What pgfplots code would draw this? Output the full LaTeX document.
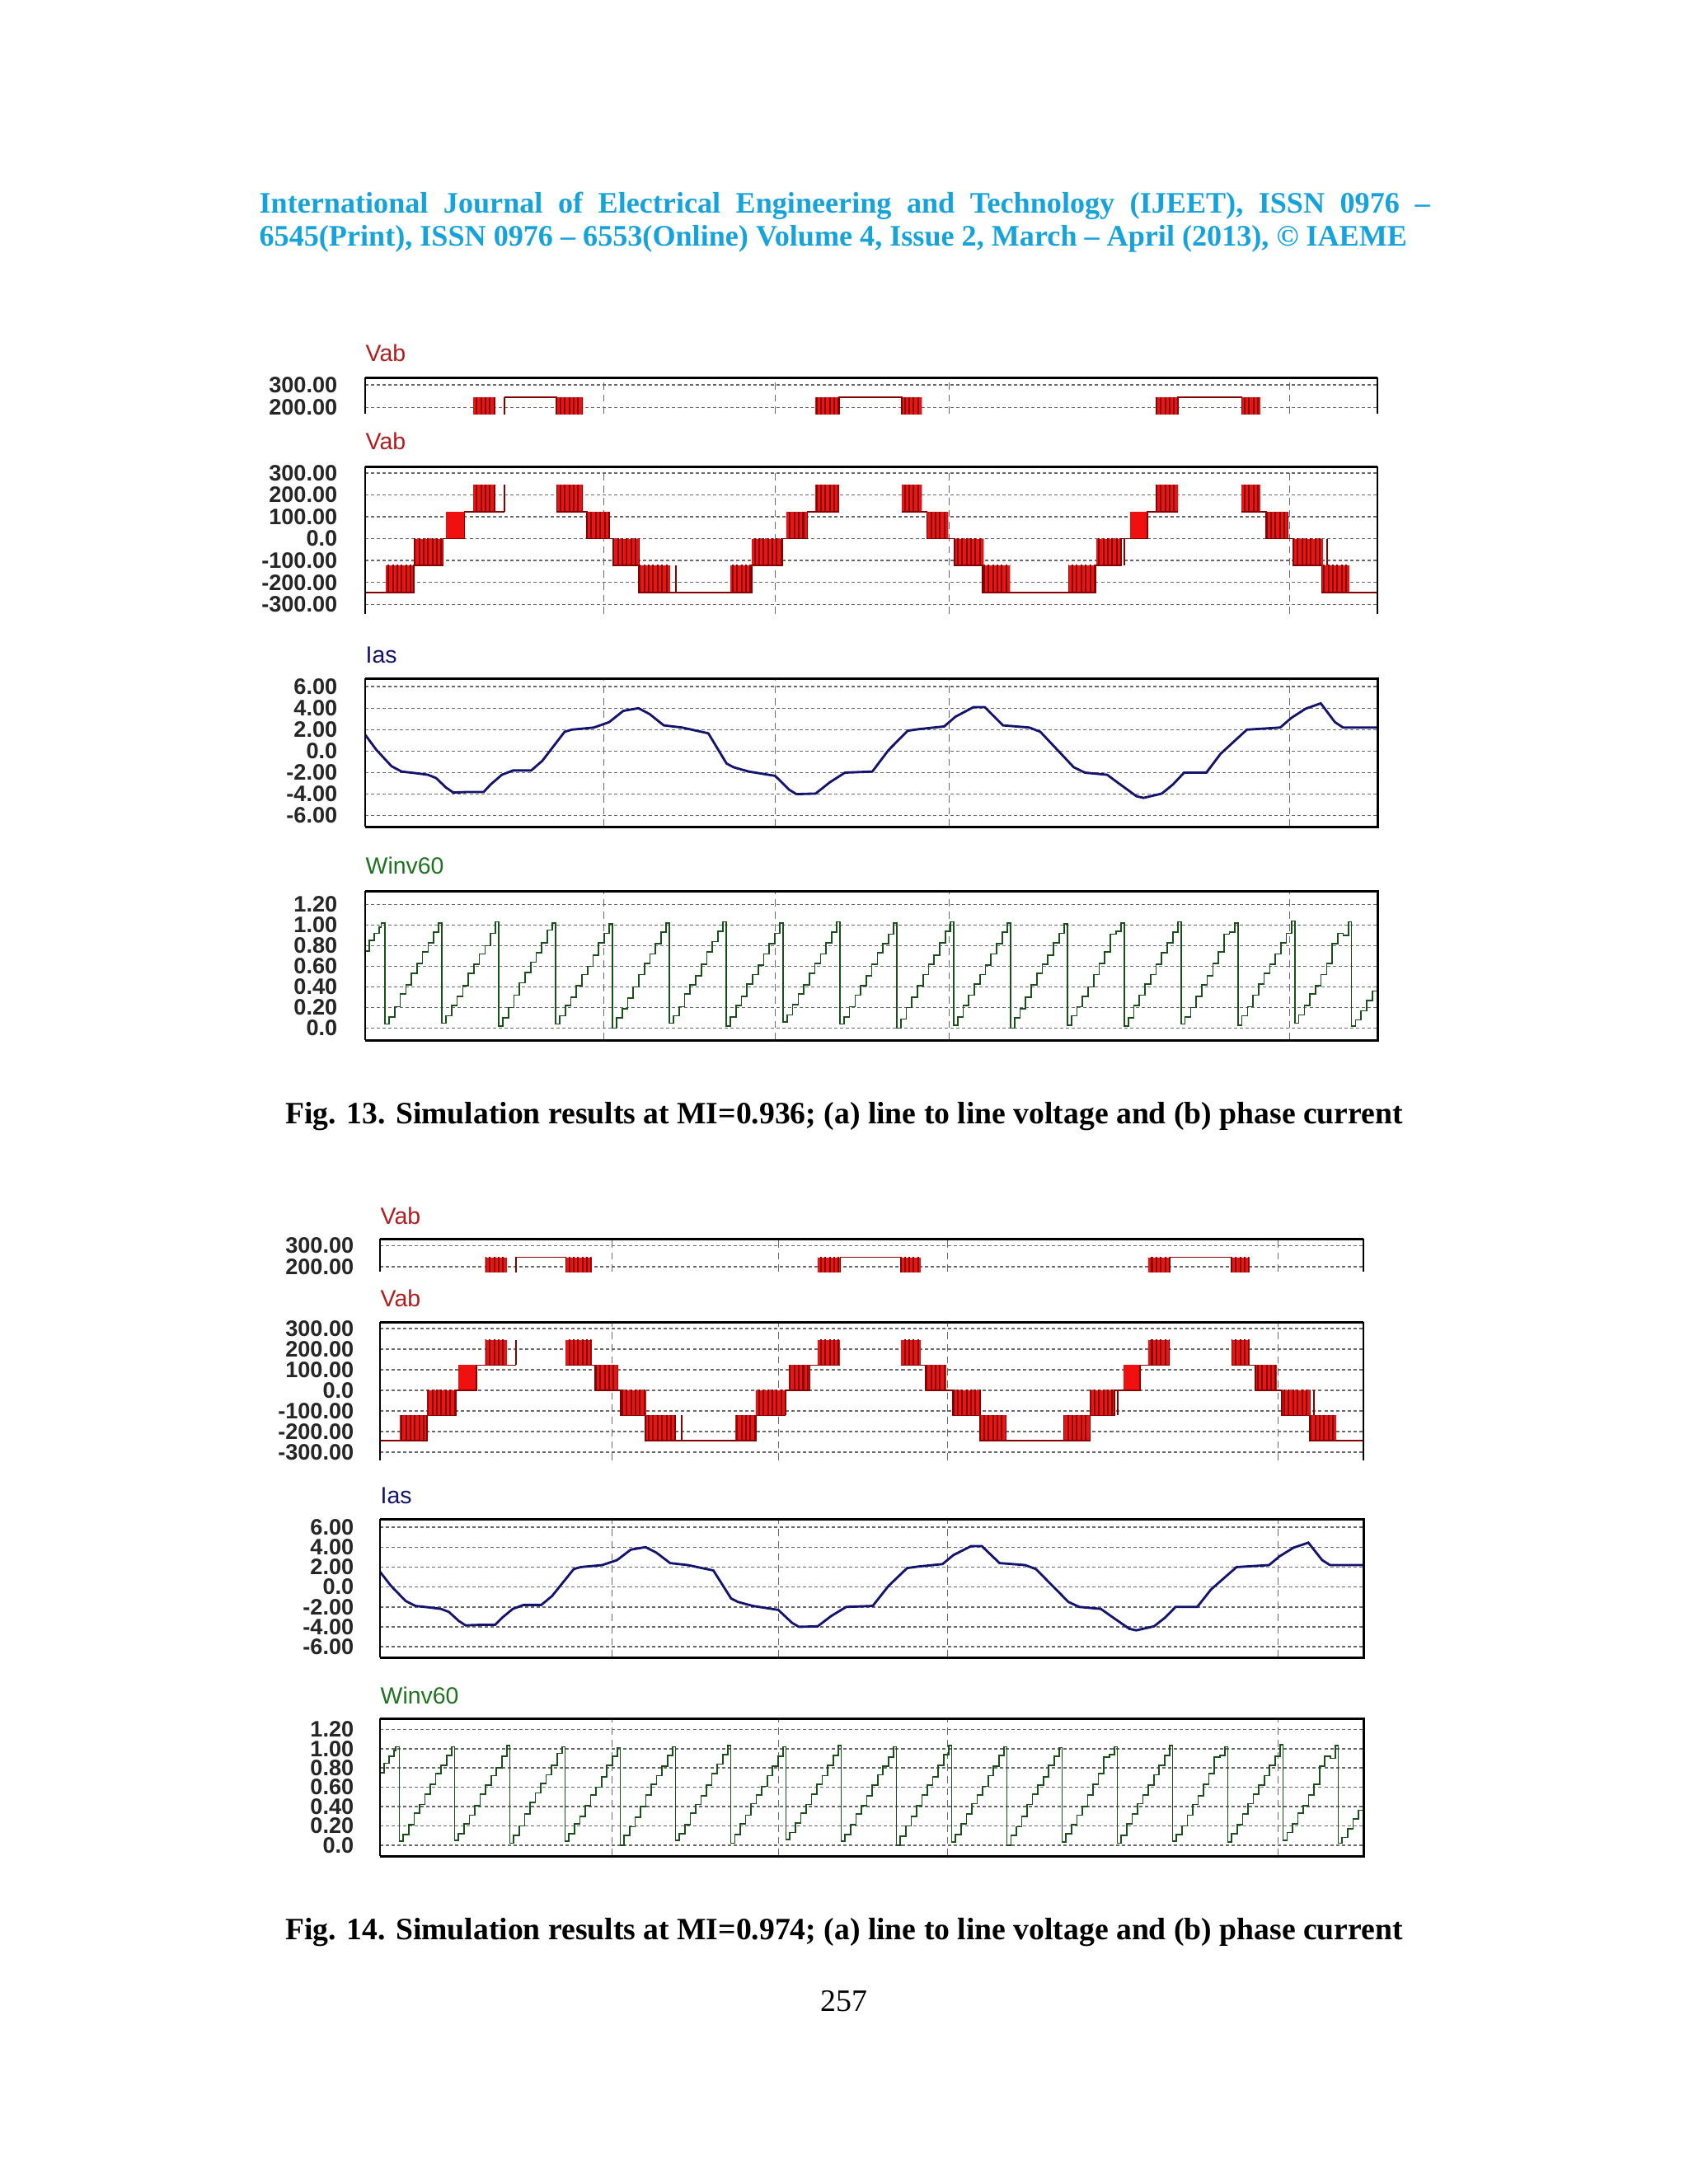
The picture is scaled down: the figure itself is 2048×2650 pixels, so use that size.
\documentclass[border=0pt]{standalone}
\usepackage{fontspec}
\setmainfont{Liberation Serif}
\newfontfamily\psimfont{Liberation Sans}
\usepackage{pgfplots}
\pgfplotsset{compat=1.18}
\usepackage{pgfplotstable}
\usetikzlibrary{patterns.meta}

\definecolor{hdr}{RGB}{22,163,220}
\definecolor{vabred}{RGB}{178,30,30}
\definecolor{blkfill}{RGB}{230,22,22}
\definecolor{blksolid}{RGB}{240,16,16}
\definecolor{blkline}{RGB}{135,0,0}
\definecolor{iasblue}{RGB}{20,20,110}
\definecolor{winvgreen}{RGB}{30,115,30}
\definecolor{sawgreen}{RGB}{25,80,25}
\definecolor{gridgray}{RGB}{105,105,105}

% Vab staircase (const plot), x in % of the time window
\pgfplotstableread{
x y
0 -245
4.8 -122
7.7 0
9.8 122
13.8 122
13.8 245
18.9 122
21.9 0
24.5 -122
27.0 -245
38.2 -122
41.2 0
43.7 122
46.8 122
46.8 245
53.0 122
55.5 0
58.2 -122
61.0 -245
72.2 -122
74.7 0
77.3 122
80.3 122
80.3 245
86.6 122
89.0 0
91.7 -122
94.5 -245
100 -245
}\vabline

% phase current Ias
\pgfplotstableread{
x y
0 1.53
1.1 0.13
2.6 -1.4
3.6 -1.9
5.0 -2.05
6.2 -2.2
7.0 -2.5
8.0 -3.4
8.7 -3.85
10.2 -3.8
11.7 -3.8
12.4 -3.1
13.5 -2.2
14.6 -1.8
16.4 -1.8
17.5 -0.9
19.7 1.8
20.4 2.0
22.6 2.2
24.1 2.7
25.5 3.75
27.0 4.0
28.1 3.45
29.5 2.4
31.3 2.2
33.9 1.66
35.7 -1.15
36.4 -1.5
37.9 -1.9
40.5 -2.3
41.9 -3.6
42.6 -4.0
44.5 -3.95
45.9 -2.9
47.4 -2.0
50.1 -1.9
51.7 0.1
53.6 1.9
54.7 2.05
57.2 2.3
58.3 3.2
60.1 4.1
61.2 4.1
63.0 2.4
65.6 2.2
66.7 1.8
68.9 -0.4
70.0 -1.5
71.1 -2.0
73.3 -2.2
74.3 -2.9
76.2 -4.2
76.9 -4.35
78.7 -3.95
79.8 -3.1
80.9 -2.0
83.1 -2.0
84.5 -0.25
87.1 2.0
90.4 2.2
91.5 3.1
92.9 3.95
94.4 4.45
95.8 2.7
96.6 2.2
100 2.2
}\iasdata

% sector angle Winv60 (stepped sawtooth)
\pgfplotstableread[row sep=\\]{
x y\\
0 0.75\\ 0.4 0.85\\ 0.9 0.92\\ 1.4 0.98\\ 1.6 1.02\\
1.97 .04\\ 2.37 .11\\ 2.92 .21\\ 3.47 .33\\ 4.02 .42\\ 4.57 .53\\ 5.12 .63\\ 5.67 .74\\ 6.22 .83\\ 6.77 .93\\ 7.27 1.02\\
7.59 .05\\ 7.99 .12\\ 8.54 .22\\ 9.09 .31\\ 9.64 .41\\ 10.19 .53\\ 10.74 .62\\ 11.29 .72\\ 11.84 .80\\ 12.39 .92\\ 12.89 1.03\\
13.20 .02\\ 13.60 .10\\ 14.15 .20\\ 14.70 .32\\ 15.25 .44\\ 15.80 .54\\ 16.35 .64\\ 16.90 .73\\ 17.45 .83\\ 18.00 .95\\ 18.50 1.02\\
18.82 .04\\ 19.22 .12\\ 19.77 .22\\ 20.32 .30\\ 20.87 .41\\ 21.42 .52\\ 21.97 .60\\ 22.52 .71\\ 23.07 .83\\ 23.62 .92\\ 24.12 1.01\\
24.43 .00\\ 24.83 .10\\ 25.38 .19\\ 25.93 .29\\ 26.48 .40\\ 27.03 .52\\ 27.58 .63\\ 28.13 .72\\ 28.68 .82\\ 29.23 .93\\ 29.73 1.02\\
30.05 .05\\ 30.45 .12\\ 31.00 .21\\ 31.55 .33\\ 32.10 .42\\ 32.65 .51\\ 33.20 .62\\ 33.75 .74\\ 34.30 .84\\ 34.85 .94\\ 35.35 1.03\\
35.67 .02\\ 36.07 .11\\ 36.62 .22\\ 37.17 .31\\ 37.72 .43\\ 38.27 .52\\ 38.82 .61\\ 39.37 .72\\ 39.92 .82\\ 40.47 .92\\ 40.97 1.02\\
41.28 .06\\ 41.68 .13\\ 42.23 .23\\ 42.78 .33\\ 43.33 .42\\ 43.88 .53\\ 44.43 .63\\ 44.98 .72\\ 45.53 .83\\ 46.08 .93\\ 46.58 1.03\\
46.90 .04\\ 47.30 .11\\ 47.85 .21\\ 48.40 .32\\ 48.95 .41\\ 49.50 .51\\ 50.05 .62\\ 50.60 .73\\ 51.15 .82\\ 51.70 .91\\ 52.20 1.02\\
52.51 .00\\ 52.91 .09\\ 53.46 .20\\ 54.01 .30\\ 54.56 .41\\ 55.11 .52\\ 55.66 .62\\ 56.21 .71\\ 56.76 .83\\ 57.31 .94\\ 57.81 1.03\\
58.13 .03\\ 58.53 .11\\ 59.08 .22\\ 59.63 .32\\ 60.18 .43\\ 60.73 .52\\ 61.28 .61\\ 61.83 .72\\ 62.38 .82\\ 62.93 .93\\ 63.43 1.02\\
63.75 .00\\ 64.15 .10\\ 64.70 .19\\ 65.25 .30\\ 65.80 .42\\ 66.35 .53\\ 66.90 .62\\ 67.45 .71\\ 68.00 .83\\ 68.55 .92\\ 69.05 1.01\\
69.36 .03\\ 69.76 .12\\ 70.31 .21\\ 70.86 .31\\ 71.41 .40\\ 71.96 .52\\ 72.51 .63\\ 73.06 .74\\ 73.61 .91\\ 74.16 .94\\ 74.66 1.02\\
74.98 .02\\ 75.38 .10\\ 75.93 .22\\ 76.48 .32\\ 77.03 .43\\ 77.58 .52\\ 78.13 .62\\ 78.68 .73\\ 79.23 .83\\ 79.78 .93\\ 80.28 1.03\\
80.59 .04\\ 80.99 .11\\ 81.54 .20\\ 82.09 .31\\ 82.64 .42\\ 83.19 .51\\ 83.74 .63\\ 84.29 .74\\ 84.84 .91\\ 85.39 .93\\ 85.89 1.02\\
86.21 .03\\ 86.61 .12\\ 87.16 .21\\ 87.71 .32\\ 88.26 .43\\ 88.81 .53\\ 89.36 .62\\ 89.91 .72\\ 90.46 .83\\ 91.01 .92\\ 91.51 1.04\\
91.83 .05\\ 92.23 .13\\ 92.78 .22\\ 93.33 .33\\ 93.88 .41\\ 94.43 .52\\ 94.98 .63\\ 95.53 .82\\ 96.08 .92\\ 96.63 .90\\ 97.13 1.03\\
97.44 .02\\ 97.84 .08\\ 98.39 .17\\ 98.94 .27\\ 99.49 .36\\ 100 .45\\
}\winvdata

% switching block: x from, x to, low level, high level
\newcommand{\blk}[4]{\addplot[draw=none, fill=blkfill,
  postaction={pattern={Lines[angle=90,distance=1.6bp,line width=0.6bp]}, pattern color=blkline}]
  coordinates {(#1,#3) (#2,#3) (#2,#4) (#1,#4)};}
\newcommand{\sblk}[4]{\addplot[draw=none, fill=blksolid]
  coordinates {(#1,#3) (#2,#3) (#2,#4) (#1,#4)};}
% single switching pulse: x, low level, high level
\newcommand{\pulse}[3]{\addplot[blkline, line width=0.6bp] coordinates {(#1,#2) (#1,#3)};}

% #1: extra options for the staircase line
\newcommand{\vabplots}[1]{%
  \blk{2.0}{4.8}{-245}{-122}
  \blk{4.8}{7.7}{-122}{0}
  \sblk{8.0}{9.8}{0}{122}
  \blk{10.7}{12.9}{122}{245}
  \pulse{13.8}{122}{245}
  \blk{18.9}{21.5}{122}{245}
  \blk{21.9}{24.2}{0}{122}
  \blk{24.5}{27.1}{-122}{0}
  \blk{27.0}{30.1}{-245}{-122}
  \pulse{30.7}{-245}{-122}
  \blk{36.1}{38.2}{-245}{-122}
  \blk{38.2}{41.2}{-122}{0}
  \pulse{41.2}{-122}{0}
  \blk{41.6}{43.7}{0}{122}
  \blk{44.5}{46.8}{122}{245}
  \blk{53.0}{55.0}{122}{245}
  \blk{55.5}{57.6}{0}{122}
  \blk{58.2}{61.1}{-122}{0}
  \blk{61.0}{63.7}{-245}{-122}
  \blk{69.5}{72.2}{-245}{-122}
  \blk{72.2}{74.7}{-122}{0}
  \pulse{75.0}{-122}{0}
  \sblk{75.6}{77.3}{0}{122}
  \blk{78.1}{80.3}{122}{245}
  \blk{86.6}{88.4}{122}{245}
  \blk{89.0}{91.2}{0}{122}
  \blk{91.7}{94.6}{-122}{0}
  \pulse{95.0}{-122}{0}
  \blk{94.5}{97.2}{-245}{-122}
  \addplot[const plot, blkline, line width=0.5bp, #1] table {\vabline};
}

\newcommand{\boxfull}{%
  \draw[line width=0.9bp] (rel axis cs:0,1) -- (rel axis cs:1,1) -- (rel axis cs:1,0) -- (rel axis cs:0,0);
  \draw[line width=0.6bp] (rel axis cs:0,0) -- (rel axis cs:0,1);}
\newcommand{\boxopen}{%
  \draw[line width=0.9bp] (rel axis cs:0,1) -- (rel axis cs:1,1);
  \draw[line width=0.8bp] (rel axis cs:1,1) -- (rel axis cs:1,0);
  \draw[line width=0.6bp] (rel axis cs:0,0) -- (rel axis cs:0,1);}

\pgfplotsset{
  psim/.style={
    scale only axis, clip mode=individual, anchor=north west,
    xmin=0, xmax=100,
    xtick={23.6,40.5,57.7,91.3}, xticklabels={},
    xmajorgrids, ymajorgrids,
    x grid style={gridgray, line width=0.4bp, dash pattern=on 2.6bp off 1.8bp},
    y grid style={gridgray, line width=0.45bp, dash pattern=on 1.2bp off 0.9bp},
    major tick length=0pt,
    axis line style={draw=none},
    yticklabel style={font=\psimfont\bfseries\fontsize{8.1bp}{8.5bp}\selectfont,
      inner sep=0pt, text=black!85},
  },
  vabA/.style={ymin=172, ymax=333, ytick={200,300}, yticklabels={200.00,300.00}},
  vabB/.style={ymin=-344, ymax=329, ytick={-300,-200,-100,0,100,200,300},
    yticklabels={-300.00,-200.00,-100.00,0.0,100.00,200.00,300.00}},
  iasC/.style={ymin=-7.03, ymax=6.78, ytick={-6,-4,-2,0,2,4,6},
    yticklabels={-6.00,-4.00,-2.00,0.0,2.00,4.00,6.00}},
  winvD/.style={ymin=-0.115, ymax=1.33, ytick={0,0.2,0.4,0.6,0.8,1.0,1.2},
    yticklabels={0.0,0.20,0.40,0.60,0.80,1.00,1.20}},
  % the full-range Vab trace shows no line along its top level
  notop/.style={unbounded coords=jump, y filter/.expression={y>200 ? nan : y}},
}

\begin{document}
\begin{tikzpicture}
\begin{scope}[x=0.298828bp, y=-0.298828bp]
\path[use as bounding box, fill=white] (0,0) rectangle (2048,2650);
\node[anchor=base west, inner sep=0, text=hdr, font=\bfseries\fontsize{10.8bp}{12bp}\selectfont] at (314,258)
  {\makebox[424.3bp][s]{International Journal of Electrical Engineering and Technology (IJEET), ISSN 0976 –}};
\node[anchor=base west, inner sep=0, text=hdr, font=\bfseries\fontsize{10.8bp}{12bp}\selectfont] at (314,298)
  {6545(Print), ISSN 0976 – 6553(Online) Volume 4, Issue 2, March – April (2013), © IAEME};
\tikzset{ttl/.style={anchor=west, inner sep=0, font=\psimfont\fontsize{8.5bp}{9bp}\selectfont}}
\node[ttl, text=vabred] at (443,428) {Vab};
\node[ttl, text=vabred] at (443,535) {Vab};
\node[ttl, text=iasblue] at (443,795) {Ias};
\node[ttl, text=winvgreen] at (443,1050) {Winv60};
\node[ttl, text=vabred] at (461,1475) {Vab};
\node[ttl, text=vabred] at (461,1575) {Vab};
\node[ttl, text=iasblue] at (461,1815) {Ias};
\node[ttl, text=winvgreen] at (461,2057) {Winv60};
\node[anchor=base, inner sep=0, font=\bfseries\fontsize{11.25bp}{12bp}\selectfont] at (1024,1363)
  {Fig. 13. Simulation results at MI=0.936; (a) line to line voltage and (b) phase current};
\node[anchor=base, inner sep=0, font=\bfseries\fontsize{11.25bp}{12bp}\selectfont] at (1024,2353)
  {Fig. 14. Simulation results at MI=0.974; (a) line to line voltage and (b) phase current};
\node[anchor=base, inner sep=0, font=\fontsize{11.3bp}{12bp}\selectfont] at (1024,2440) {257};
\end{scope}

% ---- Fig. 13 ----
\begin{axis}[psim, vabA, at={(132.38bp,-136.86bp)}, width=366.96bp, height=13.15bp,
  yticklabel style={xshift=-9.9bp}]
\vabplots{}
\boxopen
\end{axis}
\begin{axis}[psim, vabB, at={(132.38bp,-169.14bp)}, width=366.96bp, height=53.49bp,
  yticklabel style={xshift=-9.9bp}]
\vabplots{notop}
\boxopen
\end{axis}
\begin{axis}[psim, iasC, at={(132.38bp,-245.94bp)}, width=366.96bp, height=53.79bp,
  yticklabel style={xshift=-9.9bp}]
\addplot[iasblue, line width=0.85bp] table {\iasdata};
\boxfull
\end{axis}
\begin{axis}[psim, winvD, at={(132.38bp,-323.03bp)}, width=366.96bp, height=54.09bp,
  yticklabel style={xshift=-9.9bp}]
\addplot[const plot, sawgreen, line width=0.5bp] table {\winvdata};
\boxfull
\end{axis}

% ---- Fig. 14 ----
\begin{axis}[psim, vabA, ymin=177, at={(137.76bp,-449.14bp)}, width=356.5bp, height=11.95bp,
  yticklabel style={xshift=-9.3bp}]
\vabplots{}
\boxopen
\end{axis}
\begin{axis}[psim, vabB, ymin=-340, ymax=331, at={(137.76bp,-479.32bp)}, width=356.5bp, height=50.2bp,
  yticklabel style={xshift=-9.3bp}]
\vabplots{notop}
\boxopen
\end{axis}
\begin{axis}[psim, iasC, ymin=-7.07, ymax=6.83, at={(137.76bp,-550.74bp)}, width=356.5bp, height=50.2bp,
  yticklabel style={xshift=-9.3bp}]
\addplot[iasblue, line width=0.85bp] table {\iasdata};
\boxfull
\end{axis}
\begin{axis}[psim, winvD, ymax=1.314, ymin=-0.114, at={(137.76bp,-623.06bp)}, width=356.5bp, height=49.9bp,
  yticklabel style={xshift=-9.3bp}]
\addplot[const plot, sawgreen, line width=0.5bp] table {\winvdata};
\boxfull
\end{axis}
\end{tikzpicture}
\end{document}
